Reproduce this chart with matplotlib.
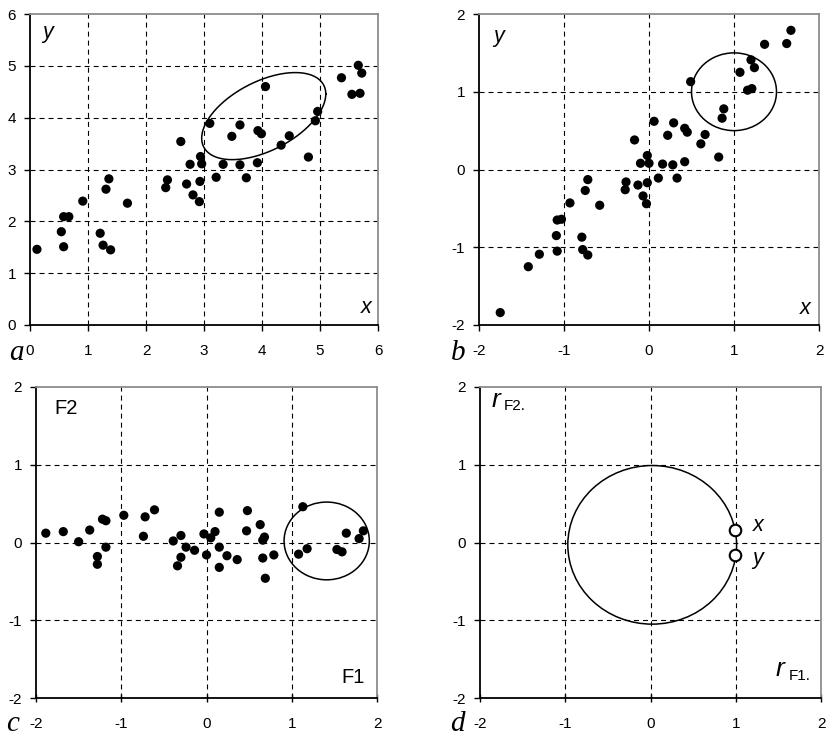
import numpy as np
import matplotlib
matplotlib.use("Agg")
import matplotlib.pyplot as plt
from matplotlib.patches import Ellipse

plt.rcParams["font.family"] = ["Liberation Sans", "DejaVu Sans"]
plt.rcParams["axes.unicode_minus"] = False
plt.rcParams["lines.scale_dashes"] = False

# --- panel a: raw x, y ---
a_x = [0.12, 0.54, 0.58, 0.58, 0.67, 0.91, 1.21, 1.26, 1.39, 1.31, 1.36, 1.68,
       2.34, 2.37, 2.60, 2.76, 2.70, 2.81, 2.92, 2.94, 2.96, 2.93, 3.10, 3.21,
       3.33, 3.62, 3.48, 3.62, 3.73, 3.92, 3.93, 3.99, 4.06, 4.33, 4.47, 4.80,
       4.92, 4.96, 5.37, 5.66, 5.72, 5.55, 5.69]
a_y = [1.46, 1.80, 1.51, 2.09, 2.09, 2.39, 1.77, 1.54, 1.45, 2.62, 2.82, 2.35,
       2.65, 2.80, 3.54, 3.10, 2.72, 2.51, 2.38, 3.25, 3.11, 2.77, 3.89, 2.85,
       3.10, 3.86, 3.64, 3.09, 2.84, 3.13, 3.75, 3.69, 4.60, 3.47, 3.65, 3.24,
       3.94, 4.12, 4.77, 5.01, 4.86, 4.45, 4.47]

# --- panel b: standardised x, y ---
b_x = [-1.75, -1.42, -1.29, -1.09, -1.08, -1.08, -1.03, -0.93, -0.79, -0.78,
       -0.72, -0.75, -0.72, -0.58, -0.27, -0.28, -0.17, -0.13, -0.10, -0.07,
       -0.03, -0.02, -0.02, 0.00, 0.06, 0.11, 0.16, 0.22, 0.28, 0.29, 0.33,
       0.42, 0.42, 0.45, 0.61, 0.66, 0.82, 0.86, 0.88, 0.49, 1.07, 1.16, 1.21,
       1.20, 1.24, 1.36, 1.62, 1.67]
b_y = [-1.84, -1.25, -1.09, -0.85, -1.05, -0.65, -0.64, -0.43, -0.87, -1.03,
       -1.10, -0.27, -0.13, -0.46, -0.16, -0.26, 0.38, -0.20, 0.08, -0.34,
       -0.44, -0.17, 0.18, 0.08, 0.62, -0.11, 0.07, 0.44, 0.06, 0.60, -0.11,
       0.10, 0.53, 0.48, 0.33, 0.45, 0.16, 0.66, 0.78, 1.13, 1.25, 1.02, 1.04,
       1.41, 1.31, 1.61, 1.62, 1.79]

# --- panel c: principal component scores F1, F2 ---
c_f1 = [-1.885, -1.68, -1.50, -1.37, -1.28, -1.28, -1.22, -1.18, -1.18, -0.97,
        -0.74, -0.72, -0.61, -0.39, -0.30, -0.34, -0.30, -0.24, -0.14, -0.03,
        0.00, 0.05, 0.10, 0.15, 0.15, 0.24, 0.15, 0.36, 0.48, 0.47, 0.63, 0.68,
        0.66, 0.66, 0.79, 0.69, 1.13, 1.08, 1.18, 1.53, 1.59, 1.64, 1.79, 1.84]
c_f2 = [0.12, 0.14, 0.01, 0.16, -0.18, -0.28, 0.30, 0.28, -0.06, 0.35,
        0.08, 0.33, 0.42, 0.02, 0.09, -0.30, -0.19, -0.06, -0.10, 0.11,
        -0.16, 0.06, 0.14, 0.39, -0.06, -0.17, -0.32, -0.22, 0.41, 0.15, 0.23,
        0.07, 0.03, -0.20, -0.16, -0.46, 0.46, -0.15, -0.08, -0.09, -0.12,
        0.12, 0.05, 0.15]

# --- panel d: loadings of x and y on F1, F2 ---
d_names = ["x", "y"]
d_rf1 = [0.99, 0.99]
d_rf2 = [0.16, -0.16]

# outlined groups
ell_a = dict(cx=4.03, cy=4.03, rx=1.07, ry=0.84, phase_deg=59.5)
circ_b = dict(cx=1.0, cy=1.0, r=0.5)
circ_c = dict(cx=1.41, cy=0.02, r=0.5)
circ_d = dict(cx=0.02, cy=-0.03, rx=0.99, ry=1.02)

a_ticks = [0, 1, 2, 3, 4, 5, 6]
s_ticks = [-2, -1, 0, 1, 2]

W, H = 827, 738
fig = plt.figure(figsize=(W / 100, H / 100), dpi=100)


def box(left, right, top, bottom):
    return [left / W, 1 - bottom / H, (right - left) / W, (bottom - top) / H]


TICK_FS = 11
DASH = (0, (3.6, 2.9))


def style(ax, ticks, xdir="out"):
    ax.set_xlim(ticks[0], ticks[-1])
    ax.set_ylim(ticks[0], ticks[-1])
    ax.set_xticks(ticks)
    ax.set_yticks(ticks)
    for t in ticks[1:-1]:
        ax.axvline(t, color="black", lw=0.8, ls=DASH, zorder=1)
        ax.axhline(t, color="black", lw=0.8, ls=DASH, zorder=1)
    for s in ("left", "bottom"):
        ax.spines[s].set_color("black")
        ax.spines[s].set_linewidth(1.3)
    for s in ("top", "right"):
        ax.spines[s].set_color("#8c8c8c")
        ax.spines[s].set_linewidth(1.3)
    ax.tick_params(axis="both", length=4, width=1.0, labelsize=TICK_FS,
                   colors="black")
    ax.tick_params(axis="y", direction="out", pad=6)
    if xdir == "inout":
        ax.tick_params(axis="x", direction="inout", length=6, pad=11)
    else:
        ax.tick_params(axis="x", direction="out", pad=10)


dot = dict(s=44, color="black", edgecolors="none", zorder=3)
it = dict(fontsize=15.5, style="italic")

# a
axa = fig.add_axes(box(30, 378, 14, 325))
style(axa, a_ticks)
axa.scatter(a_x, a_y, **dot)
t = np.linspace(0, 2 * np.pi, 400)
ph = np.radians(ell_a["phase_deg"])
axa.plot(ell_a["cx"] + ell_a["rx"] * np.cos(t),
         ell_a["cy"] + ell_a["ry"] * np.cos(t - ph), color="black", lw=1.1, zorder=4)
axa.text(0.051, 0.94, "y", transform=axa.transAxes, ha="center", va="center", **it)
axa.text(0.967, 0.055, "x", transform=axa.transAxes, ha="center", va="center", **it)

# b
axb = fig.add_axes(box(479, 819, 14, 325))
style(axb, s_ticks)
axb.scatter(b_x, b_y, **dot)
axb.add_patch(Ellipse((circ_b["cx"], circ_b["cy"]), 2 * circ_b["r"], 2 * circ_b["r"],
                      fill=False, color="black", lw=1.1, zorder=4))
axb.text(0.058, 0.928, "y", transform=axb.transAxes, ha="center", va="center", **it)
axb.text(0.959, 0.052, "x", transform=axb.transAxes, ha="center", va="center", **it)

# c
axc = fig.add_axes(box(36, 377, 387, 698))
style(axc, s_ticks, "inout")
axc.scatter(c_f1, c_f2, **dot)
axc.add_patch(Ellipse((circ_c["cx"], circ_c["cy"]), 2 * circ_c["r"], 2 * circ_c["r"],
                      fill=False, color="black", lw=1.1, zorder=4))
axc.text(0.088, 0.931, "F2", transform=axc.transAxes, ha="center", va="center",
         fontsize=14.5)
axc.text(0.93, 0.066, "F1", transform=axc.transAxes, ha="center", va="center",
         fontsize=14.5)

# d
axd = fig.add_axes(box(480, 821, 387, 698))
style(axd, s_ticks, "inout")
axd.add_patch(Ellipse((circ_d["cx"], circ_d["cy"]), 2 * circ_d["rx"], 2 * circ_d["ry"],
                      fill=False, color="black", lw=1.1, zorder=3))
axd.plot(d_rf1, d_rf2, ls="none", marker="o", ms=8.3, mfc="white", mec="black",
         mew=1.5, zorder=4)
for name, u, v in zip(d_names, d_rf1, d_rf2):
    axd.text(u + 0.27, v + (0.06 if v > 0 else -0.04), name,
             ha="center", va="center", **it)
axd.text(0.047, 0.957, "r", transform=axd.transAxes, ha="center", va="center",
         fontsize=19, style="italic")
axd.text(0.071, 0.938, "F2.", transform=axd.transAxes, ha="left", va="center",
         fontsize=11)
axd.text(0.88, 0.092, "r", transform=axd.transAxes, ha="center", va="center",
         fontsize=19, style="italic")
axd.text(0.906, 0.072, "F1.", transform=axd.transAxes, ha="left", va="center",
         fontsize=11)

# panel letters
letter = dict(fontsize=21, style="italic", family="Liberation Serif", ha="center",
              va="baseline")
for lab, px, py in (("a", 16, 360), ("b", 458, 360), ("c", 13, 731), ("d", 457, 731)):
    fig.text(px / W, 1 - py / H, lab, **letter)

fig.savefig("out.png", dpi=100)
